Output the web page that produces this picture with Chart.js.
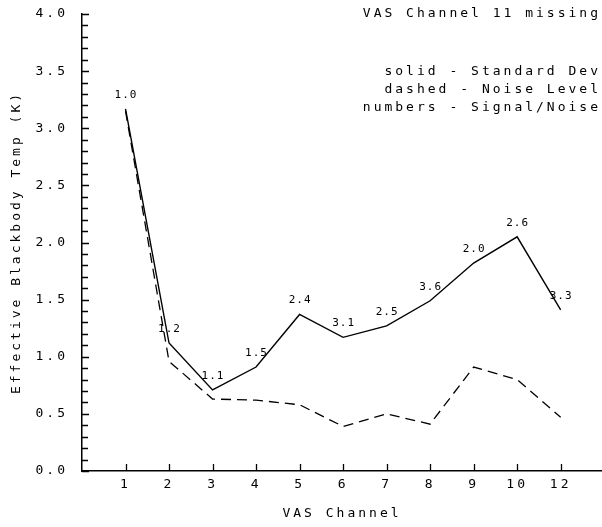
<!DOCTYPE html>
<html>
<head>
<meta charset="utf-8">
<script src="https://cdn.jsdelivr.net/npm/chart.js@4/dist/chart.umd.min.js"></script>
<style>
	html, body { margin: 0; padding: 0; background: #fff; }
	#chart { display: block; }
</style>
</head>
<body>
<canvas id="chart" width="602" height="527"></canvas>
<script>
// VAS channels (channel 11 is missing from the data)
const channels = ["1", "2", "3", "4", "5", "6", "7", "8", "9", "10", "12"];
// solid line - standard deviation (K)
const stdDev = [3.17, 1.12, 0.71, 0.91, 1.37, 1.17, 1.27, 1.49, 1.82, 2.05, 1.41];
// dashed line - noise level (K)
const noiseLevel = [3.15, 0.96, 0.63, 0.62, 0.58, 0.39, 0.50, 0.41, 0.91, 0.80, 0.47];
// numbers written above the solid line - signal/noise
const signalNoise = ["1.0", "1.2", "1.1", "1.5", "2.4", "3.1", "2.5", "3.6", "2.0", "2.6", "3.3"];
// y axis labels, minor ticks every 0.1
const yLabels = ["0.0", "0.5", "1.0", "1.5", "2.0", "2.5", "3.0", "3.5", "4.0"];
const notes = ["solid - Standard Dev", "dashed - Noise Level", "numbers - Signal/Noise"];

const FONT = "'DejaVu Sans Mono', 'Liberation Mono', monospace";

function toPoints(values) {
	return values.map((v, i) => ({ x: i + 1, y: v }));
}

// plotter style wide lettering for everything Chart.js writes
const spacingPlugin = {
	id: "spacing",
	beforeLayout(chart) { chart.ctx.letterSpacing = "3px"; },
	beforeDraw(chart) { chart.ctx.letterSpacing = "3px"; },
};

// tick marks pointing into the plot, plus the text notes
const plotterPlugin = {
	id: "plotter",
	afterDatasetsDraw(chart) {
		const ctx = chart.ctx;
		const xs = chart.scales.x;
		const ys = chart.scales.y;
		const area = chart.chartArea;

		ctx.save();
		ctx.strokeStyle = "#000";
		ctx.lineWidth = 1.3;
		ctx.beginPath();
		ys.ticks.forEach((t) => {
			const py = Math.round(ys.getPixelForValue(t.value)) + 0.5;
			const len = t.label ? 7 : 6;
			ctx.moveTo(area.left, py);
			ctx.lineTo(area.left + len, py);
		});
		xs.ticks.forEach((t) => {
			const px = Math.round(xs.getPixelForValue(t.value)) + 0.5;
			ctx.moveTo(px, area.bottom);
			ctx.lineTo(px, area.bottom - 7);
		});
		ctx.stroke();

		// signal/noise numbers over the solid line
		ctx.fillStyle = "#000";
		ctx.font = "11px " + FONT;
		ctx.letterSpacing = "1px";
		ctx.textAlign = "center";
		ctx.textBaseline = "middle";
		signalNoise.forEach((txt, i) => {
			const px = xs.getPixelForValue(i + 1);
			const py = ys.getPixelForValue(stdDev[i]);
			ctx.fillText(txt, px + 0.5, py - 14);
		});

		// header and key, top right
		ctx.font = "13px " + FONT;
		ctx.letterSpacing = "3px";
		ctx.textAlign = "right";
		ctx.fillText("VAS Channel 11 missing", 601, 14);
		notes.forEach((txt, i) => {
			ctx.fillText(txt, 601, 72 + i * 18);
		});
		ctx.restore();
	},
};

function drawChart() {
	const el = document.getElementById("chart");
	if (!el) return;

	const data = {
		datasets: [
			{
				label: "Standard Dev",
				data: toPoints(stdDev),
				borderColor: "#000",
				borderWidth: 1.4,
				pointRadius: 0,
				tension: 0,
			},
			{
				label: "Noise Level",
				data: toPoints(noiseLevel),
				borderColor: "#000",
				borderWidth: 1.3,
				borderDash: [10, 6],
				pointRadius: 0,
				tension: 0,
			},
		],
	};

	const config = {
		type: "line",
		data: data,
		options: {
			responsive: false,
			animation: false,
			devicePixelRatio: 1,
			layout: { padding: { top: 14, right: 0, bottom: 0, left: 0 } },
			plugins: {
				legend: { display: false },
				tooltip: { enabled: false },
			},
			scales: {
				x: {
					type: "linear",
					min: 0,
					max: 11.95,
					grid: { display: false, drawTicks: false },
					border: { display: true, color: "#000", width: 1.5 },
					afterBuildTicks: (axis) => {
						axis.ticks = channels.map((c, i) => ({ value: i + 1 }));
					},
					afterFit: (axis) => {
						axis.height = 56;
						axis.paddingLeft = 0;
						axis.paddingRight = 0;
					},
					ticks: {
						autoSkip: false,
						maxRotation: 0,
						padding: 6,
						color: "#000",
						font: { family: FONT, size: 13 },
						callback: (v) => channels[v - 1],
					},
					title: {
						display: true,
						text: "VAS Channel",
						color: "#000",
						font: { family: FONT, size: 13 },
						padding: { top: 0, bottom: 6 },
					},
				},
				y: {
					type: "linear",
					min: 0,
					max: 4,
					grid: { display: false, drawTicks: false },
					border: { display: true, color: "#000", width: 1.5 },
					afterBuildTicks: (axis) => {
						const t = [];
						for (let k = 0; k <= 40; k++) t.push({ value: k / 10 });
						axis.ticks = t;
					},
					afterFit: (axis) => {
						axis.width = 82;
						axis.paddingTop = 0;
						axis.paddingBottom = 0;
					},
					ticks: {
						autoSkip: false,
						padding: 14,
						color: "#000",
						font: { family: FONT, size: 13 },
						callback: (v) => {
							const k = Math.round(v * 10);
							return k % 5 === 0 ? yLabels[k / 5] : "";
						},
					},
					title: {
						display: true,
						text: "Effective Blackbody Temp (K)",
						color: "#000",
						font: { family: FONT, size: 13 },
						padding: { top: 9, bottom: 0 },
					},
				},
			},
		},
		plugins: [spacingPlugin, plotterPlugin],
	};

	if (window.chartMain) window.chartMain.destroy();
	window.chartMain = new Chart(el, config);
}

drawChart();
</script>
</body>
</html>
